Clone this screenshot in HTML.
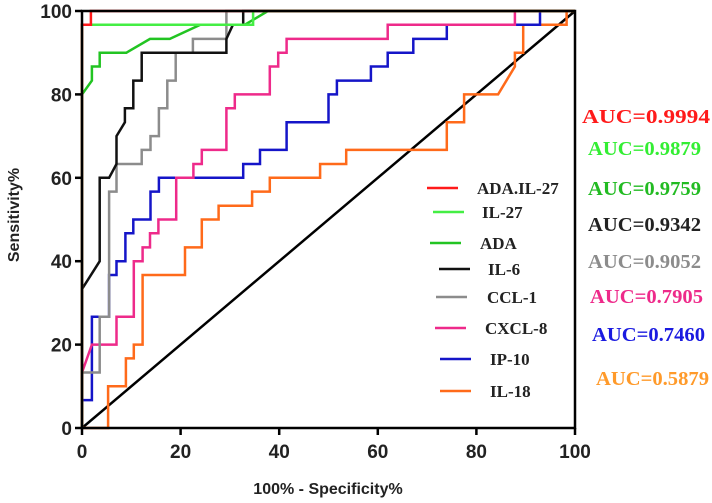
<!DOCTYPE html>
<html><head><meta charset="utf-8"><style>
html,body{margin:0;padding:0;background:#fff}
svg{display:block}
.tk{font-family:"Liberation Sans",Arial,sans-serif;font-weight:bold;font-size:19px;fill:#222}
.tt{font-family:"Liberation Sans",Arial,sans-serif;font-weight:bold;font-size:16px;fill:#222}
.lg{font-family:"Liberation Serif","Times New Roman",serif;font-weight:bold;font-size:17px;fill:#222}
.auc{font-family:"Liberation Serif","Times New Roman",serif;font-weight:bold;font-size:20px}
</style></head><body>
<svg id="chart" width="712" height="503" viewBox="0 0 712 503" xmlns="http://www.w3.org/2000/svg">
<g id="plot"></g>
<g id="axes"></g>
<text class="tt" x="328" y="494" text-anchor="middle">100% - Specificity%</text>
<text class="tt" transform="translate(19,215) rotate(-90)" text-anchor="middle">Sensitivity%</text>
<g id="legend"></g>
<g id="auc"></g>
</svg>
<script>
const seriesNames=["IL-18","IP-10","CXCL-8","CCL-1","IL-6","ADA","IL-27","ADA.IL-27"];
const seriesColors=["#ff6a1a","#1515c8","#ee2a8a","#8c8c8c","#111111","#22c422","#44ee44","#ff1a1a"];
const il18X=[0,5.3,5.3,8.9,8.9,10.5,10.5,12.3,12.3,20.9,20.9,24.3,24.3,27.7,27.7,34.5,34.5,38.1,38.1,48.3,48.3,53.6,53.6,74,74,77.5,77.5,84.4,87.8,87.8,89.5,89.5,98.3,98.3,100];
const il18Y=[0,0,10,10,16.7,16.7,20,20,36.7,36.7,43.3,43.3,50,50,53.3,53.3,56.7,56.7,60,60,63.3,63.3,66.7,66.7,73.3,73.3,80,80,86.7,90,90,96.7,96.7,100,100];
const ip10X=[0,0,2,2,5.5,5.5,7,7,8.8,8.8,10.4,10.4,13.9,13.9,15.6,15.6,32.7,32.7,36.1,36.1,41.5,41.5,50,50,51.7,51.7,58.6,58.6,62,62,67.2,67.2,74,74,92.9,92.9,100];
const ip10Y=[0,6.7,6.7,26.7,26.7,36.7,36.7,40,40,46.7,46.7,50,50,56.7,56.7,60,60,63.3,63.3,66.7,66.7,73.3,73.3,80,80,83.3,83.3,86.7,86.7,90,90,93.3,93.3,96.7,96.7,100,100];
const cxcl8X=[0,0,2,7,7,10.5,10.5,12.3,12.3,13.8,13.8,15.5,15.5,19.1,19.1,22.6,22.6,24.3,24.3,29.3,29.3,31,31,38.1,38.1,39.8,39.8,41.5,41.5,62,62,87.8,87.8,100];
const cxcl8Y=[0,13.3,20,20,26.7,26.7,40,40,43.3,43.3,46.7,46.7,50,50,60,60,63.3,63.3,66.7,66.7,76.7,76.7,80,80,86.7,86.7,90,90,93.3,93.3,96.7,96.7,100,100];
const ccl1X=[0,0,3.6,3.6,5.5,5.5,7,7,12.1,12.1,13.9,13.9,15.6,15.6,17.3,17.3,19,19,22.5,22.5,29.3,29.3,100];
const ccl1Y=[0,13.3,13.3,26.7,26.7,56.7,56.7,63.3,63.3,66.7,66.7,70,70,76.7,76.7,83.3,83.3,90,90,93.3,93.3,100,100];
const il6X=[0,0,3.6,3.6,5.5,7,7,8.7,8.7,10.4,10.4,12.1,12.1,29.3,29.3,30.6,32.7,32.7,100];
const il6Y=[0,33.3,40,60,60,63.3,70,73.3,76.7,76.7,83.3,83.3,90,90,93.3,96.7,96.7,100,100];
const adaX=[0,0,2,2,3.6,3.6,9,13.8,17.8,24,33,37.7,100];
const adaY=[0,80,83.3,86.7,86.7,90,90,93.3,93.3,96.7,96.7,100,100];
const il27X=[0,0,34.7,34.7,100];
const il27Y=[0,96.7,96.7,100,100];
const comboX=[0,0,1.8,1.8,100];
const comboY=[0,96.7,96.7,100,100];
const seriesX=[il18X,ip10X,cxcl8X,ccl1X,il6X,adaX,il27X,comboX];
const seriesY=[il18Y,ip10Y,cxcl8Y,ccl1Y,il6Y,adaY,il27Y,comboY];
const aucValues=["0.9994","0.9879","0.9759","0.9342","0.9052","0.7905","0.7460","0.5879"];
const aucColors=["#ff1a1a","#33ee33","#22bb22","#222222","#8c8c8c","#ee2a8a","#1a1ae0","#ff9a2a"];
const legendNames=["ADA.IL-27","IL-27","ADA","IL-6","CCL-1","CXCL-8","IP-10","IL-18"];
const legendColors=["#ff1a1a","#44ee44","#22c422","#111111","#8c8c8c","#ee2a8a","#1515c8","#ff6a1a"];
const xTicks=[0,20,40,60,80,100];
const yTicks=[0,20,40,60,80,100];

const X0=82,X1=575,Y0=428,Y1=11;
const sx=v=>X0+(X1-X0)*v/100, sy=v=>Y0-(Y0-Y1)*v/100;
const NS="http://www.w3.org/2000/svg";
function mk(tag,parent,attrs){const e=document.createElementNS(NS,tag);for(const k in attrs)e.setAttribute(k,attrs[k]);parent.appendChild(e);return e;}
const plot=document.getElementById('plot'),axes=document.getElementById('axes');
const ref=mk('line',plot,{x1:sx(0),y1:sy(0),x2:sx(100),y2:sy(100),stroke:'#000','stroke-width':2.5});


seriesNames.forEach((n,i)=>{
  const pts=seriesX[i].map((x,j)=>sx(x).toFixed(1)+','+sy(seriesY[i][j]).toFixed(1)).join(' ');
  const p=mk('polyline',plot,{points:pts,fill:'none',stroke:seriesColors[i],'stroke-width':2.5,'stroke-linejoin':'miter'});
  
  
});
const fr=mk('rect',axes,{x:X0,y:Y1,width:X1-X0,height:Y0-Y1,fill:'none',stroke:'#000','stroke-width':2.5});


xTicks.forEach(t=>{
  mk('line',axes,{x1:sx(t),y1:Y0,x2:sx(t),y2:Y0+7,stroke:'#000','stroke-width':2.5});
  const tx=mk('text',axes,{x:sx(t),y:Y0+30,'text-anchor':'middle',class:'tk'});
  tx.textContent=t;
  
  
});
yTicks.forEach(t=>{
  mk('line',axes,{x1:X0-7,y1:sy(t),x2:X0,y2:sy(t),stroke:'#000','stroke-width':2.5});
  const tx=mk('text',axes,{x:X0-10,y:sy(t)+7,'text-anchor':'end',class:'tk'});
  tx.textContent=t;
  
  
});
const leg=document.getElementById('legend');
const legY=[188,212,243,269,297,328,359,391];
const legLX=[427,433,430,439,436,435,440,440];
const legTX=[477,482,480,488,487,485,490,490];
legendNames.forEach((n,i)=>{
  const l=mk('line',leg,{x1:legLX[i],y1:legY[i],x2:legLX[i]+31,y2:legY[i],stroke:legendColors[i],'stroke-width':2.5});
  
  
  const t=mk('text',leg,{x:legTX[i],y:legY[i]+6,class:'lg'});
  t.textContent=n;
  
  
});
const auc=document.getElementById('auc');
const aucY=[123,155,195,231,268,303,341,385];
const aucX=[582,588,588,588,588,590,592,596];
const aucW=[128,113,113,113,113,113,113,113];
aucValues.forEach((v,i)=>{
  const t=mk('text',auc,{x:aucX[i],y:aucY[i],class:'auc',fill:aucColors[i],textLength:aucW[i],lengthAdjust:'spacingAndGlyphs'});
  t.textContent='AUC='+v;
  
  
});
</script>
</body></html>
